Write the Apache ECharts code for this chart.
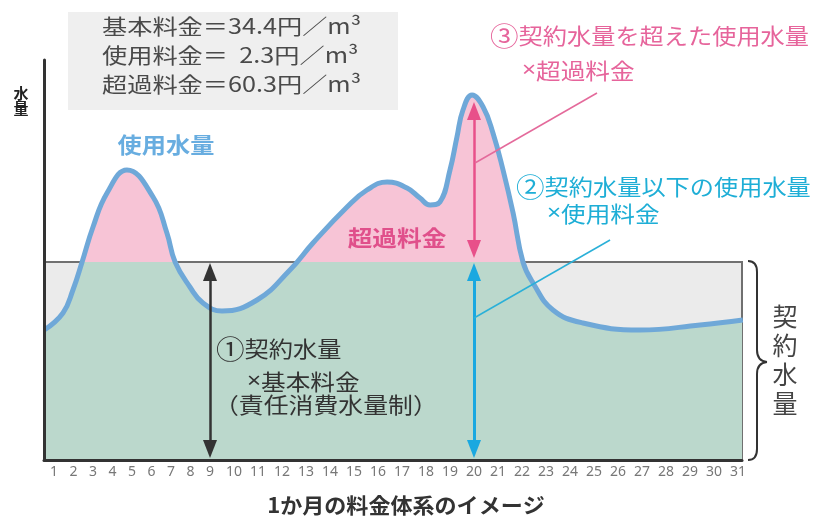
<!DOCTYPE html>
<html><head><meta charset="utf-8">
<script src="https://cdn.jsdelivr.net/npm/echarts@6/dist/echarts.min.js"></script>
<style>html,body{margin:0;padding:0;background:#fff}#c{width:819px;height:516px}</style>
</head><body><div id="c"></div>
<script>
// ---- data ----
const dayLabels = [1,2,3,4,5,6,7,8,9,10,11,12,13,14,15,16,17,18,19,20,21,22,23,24,25,26,27,28,29,30,31];
const curveDays = [0.5,1.46,1.97,2.44,3.0,3.72,4.74,6.08,6.79,7.21,7.97,8.64,9.5,10.96,12.33,13.29,14.71,15.54,16.38,17.21,17.75,18.17,18.58,19.0,19.29,19.54,19.92,20.38,20.79,21.21,21.63,22.04,22.46,23.29,24.54,26.92,29.42,31.2];
const usage     = [32.5,36.75,42.5,49.5,58.25,66.75,72.5,65.75,56.75,49.5,43.25,39.25,37.25,40,47.5,54.25,63.25,67.5,69.5,68,65.5,63.75,64.5,72.5,80.75,87.5,91.25,88.25,81.75,72.5,61.75,49.5,44.25,37.5,34.25,32.5,33.75,35];
const contractVolume = 49.5;
const basicArrowDay = 9;
const usageArrowDay = 20;
const arrowBottom = 2.75, arrowTopBelow = 47, arrowBottomAbove = 52.75, arrowTopPeak = 87.25;
const leaderExcess = [[20.04, 74.25], [25.125, 91.75]];
const leaderUsage  = [[20.0, 35.5], [25.67, 55]];
const rateLines = ['基本料金＝34.4円／m³', '使用料金＝  2.3円／m³', '超過料金＝60.3円／m³'];

// broken day scale: days 1-9 are drawn closer together than days 9-31
function toAxis(d){ return d < 9 ? 9 - (9 - d) * 19.5 / 24 : d; }
const axisMin = 2.083, axisMax = 31.167;
const labelPos = dayLabels.map(toAxis);
const pts = curveDays.map((d,i)=>[toAxis(d), usage[i]]);

const JP = "'Noto Sans CJK JP','Noto Sans',sans-serif";
const GREEN = '#bbd8cc', PINK = '#f7c4d6', GRAY = '#ebebeb';
const SMOOTH = 0.45;

function txt(text, x, y, size, color, opt){
  opt = opt || {};
  return {type:'text', x:x, y:y, z:100, scaleX: opt.sx || 1, silent:true,
    style:{text:text, fill:color, font:(opt.bold?'bold ':'') + size + 'px ' + JP,
      textAlign: opt.align || 'left', textVerticalAlign:'middle', lineHeight: opt.lh,
      rich:{
        c:{fontSize: size + 4, fontFamily: JP, fill: color},
        x:{fontSize: size, fontFamily: "'Noto Sans','DejaVu Sans',sans-serif", fill: color}
      }}};
}
function arrow(day, y0, y1, color, w){
  return [{coord:[toAxis(day), y0], symbol:'triangle', symbolSize:[14,18], lineStyle:{color:color, width:w, type:'solid'}},
          {coord:[toAxis(day), y1], symbol:'triangle', symbolSize:[14,18]}];
}
function leader(p, color){
  return [{coord:[toAxis(p[0][0]), p[0][1]], symbol:'none', lineStyle:{color:color, width:1.5, type:'solid'}},
          {coord:[toAxis(p[1][0]), p[1][1]], symbol:'none'}];
}

const chart = echarts.init(document.getElementById('c'), null, {renderer:'canvas'});
chart.setOption({
  animation:false,
  backgroundColor:'#fff',
  grid:{left:44, right:77, top:60, bottom:56},
  xAxis:{type:'value', min:axisMin, max:axisMax, z:10,
    axisLine:{show:true, onZero:false, lineStyle:{color:'#333', width:3}},
    axisTick:{show:false}, splitLine:{show:false},
    axisLabel:{customValues:labelPos, color:'#777', fontSize:14, margin:5, fontFamily:'Noto Sans',
      formatter:function(v){ const i = labelPos.findIndex(p=>Math.abs(p-v)<1e-6); return i>=0 ? String(dayLabels[i]) : ''; }}},
  yAxis:{type:'value', min:0, max:100, z:10,
    axisLine:{show:true, lineStyle:{color:'#333', width:3}},
    axisTick:{show:false}, axisLabel:{show:false}, splitLine:{show:false}},
  visualMap:{type:'piecewise', show:false, dimension:1, seriesIndex:0,
    pieces:[{min:0, max:contractVolume, color:GREEN},{min:contractVolume, max:100, color:PINK}]},
  series:[
    {type:'line', data:pts, smooth:SMOOTH, showSymbol:false, silent:true, z:2,
     lineStyle:{width:0}, areaStyle:{opacity:1}},
    {type:'line', data:pts, smooth:SMOOTH, showSymbol:false, silent:true, z:3,
     lineStyle:{color:'#6fa8d8', width:5},
     markArea:{silent:true, z:1, itemStyle:{color:GRAY, borderColor:'#707070', borderWidth:2},
       data:[[{coord:[axisMin,0]},{coord:[axisMax,contractVolume]}]]},
     markLine:{silent:true, z:5, symbol:'none', label:{show:false}, emphasis:{disabled:true},
       data:[
         arrow(basicArrowDay, arrowBottom, arrowTopBelow, '#333', 2.5),
         arrow(usageArrowDay, arrowBottom, arrowTopBelow, '#1aa8e0', 3),
         arrow(usageArrowDay, arrowBottomAbove, arrowTopPeak, '#e8508a', 2.5),
         leader(leaderExcess, '#e46a9b'),
         leader(leaderUsage, '#2ab0d8')
       ]}}
  ],
  graphic:[
    {type:'rect', shape:{x:68, y:12, width:330, height:98}, style:{fill:'#efefef'}, z:0, silent:true},
    txt(rateLines[0], 102, 26, 21, '#4a4a4a', {sx:1.2}),
    txt(rateLines[1], 102, 55, 21, '#4a4a4a', {sx:1.2}),
    txt(rateLines[2], 102, 84, 21, '#4a4a4a', {sx:1.2}),
    txt('水\n量', 21, 101, 15, '#222', {bold:true, align:'center', lh:15}),
    txt('使用水量', 166, 145, 22, '#68ade0', {bold:true, align:'center', sx:1.1}),
    txt('超過料金', 397, 238, 22, '#e0508b', {bold:true, align:'center', sx:1.12}),
    txt('{c|③}契約水量を超えた使用水量', 490, 36, 22, '#e6649b', {sx:1.1}),
    txt('{x|×}超過料金', 522, 71, 22, '#e6649b', {sx:1.12}),
    txt('{c|②}契約水量以下の使用水量', 516, 187, 22, '#1eaed6', {sx:1.1}),
    txt('{x|×}使用料金', 547, 214, 22, '#1eaed6', {sx:1.12}),
    txt('{c|①}契約水量', 216, 349, 22, '#333', {sx:1.1}),
    txt('{x|×}基本料金', 247, 382, 22, '#333', {sx:1.12}),
    txt('（責任消費水量制）', 214, 405, 22, '#333', {sx:1.13}),
    txt('契\n約\n水\n量', 785, 360, 25, '#444', {align:'center', lh:29}),
    txt('1か月の料金体系のイメージ', 406, 505, 21, '#333', {bold:true, align:'center', sx:1.05}),
    {type:'bezierCurve', z:100, silent:true, shape:{x1:748,y1:261,cpx1:757,cpy1:261,x2:757,y2:272}, style:{stroke:'#333', lineWidth:2, fill:null}},
    {type:'line', z:100, silent:true, shape:{x1:757,y1:272,x2:757,y2:350}, style:{stroke:'#333', lineWidth:2}},
    {type:'bezierCurve', z:100, silent:true, shape:{x1:757,y1:350,cpx1:757,cpy1:361,x2:767,y2:362}, style:{stroke:'#333', lineWidth:2, fill:null}},
    {type:'bezierCurve', z:100, silent:true, shape:{x1:767,y1:362,cpx1:757,cpy1:363,x2:757,y2:374}, style:{stroke:'#333', lineWidth:2, fill:null}},
    {type:'line', z:100, silent:true, shape:{x1:757,y1:374,x2:757,y2:449}, style:{stroke:'#333', lineWidth:2}},
    {type:'bezierCurve', z:100, silent:true, shape:{x1:757,y1:449,cpx1:757,cpy1:460,x2:748,y2:460}, style:{stroke:'#333', lineWidth:2, fill:null}}
  ]
});
</script></body></html>
